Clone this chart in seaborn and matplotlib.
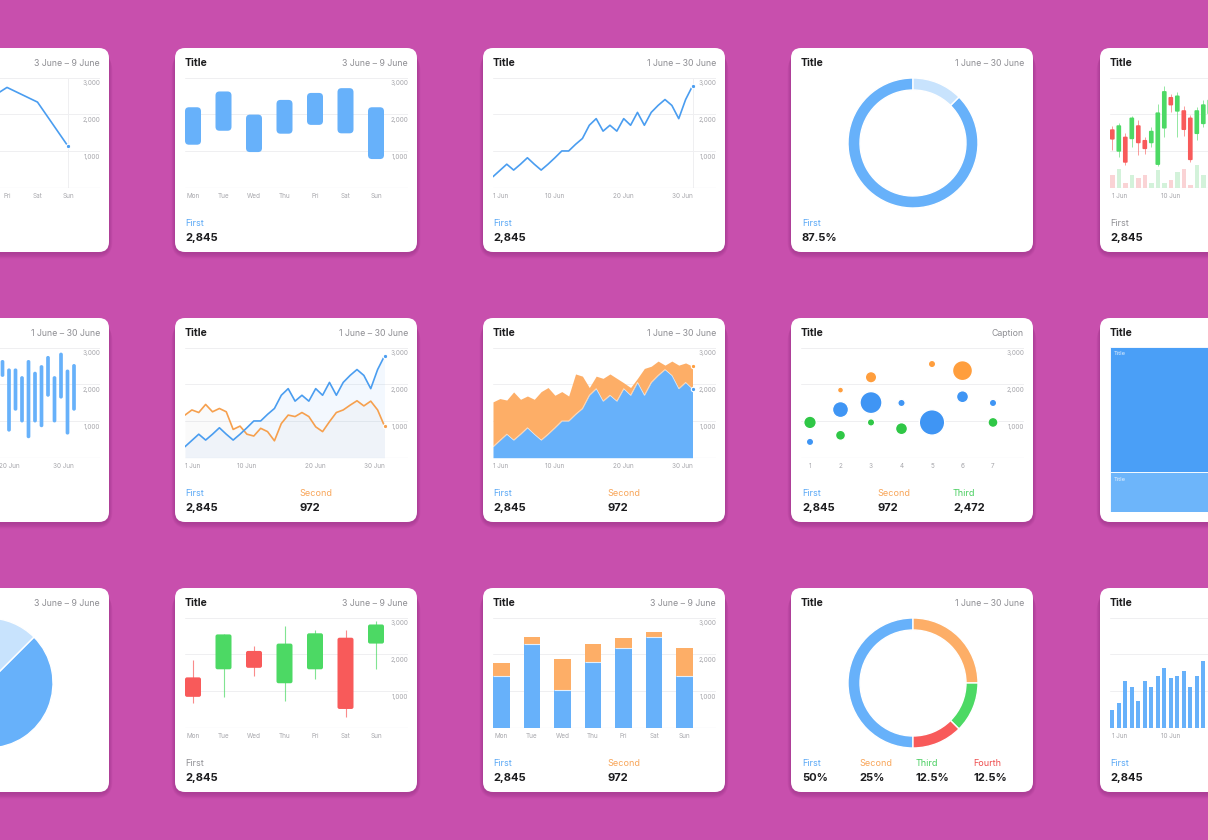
import numpy as np
import pandas as pd
import matplotlib.pyplot as plt
import seaborn as sns
from matplotlib.patches import FancyBboxPatch

W, H = 1208, 840

# ---- data ----
week_days = ["Mon", "Tue", "Wed", "Thu", "Fri", "Sat", "Sun"]
y_ticks = [1000, 2000, 3000]
y_tick_labels = ["1,000", "2,000", "3,000"]
days = list(range(1, 31))
month_ticks = [1, 10, 20, 30]
month_tick_labels = ["1 Jun", "10 Jun", "20 Jun", "30 Jun"]

# weekly line (left card, only Thu-Sun visible)
week_line = [1800, 2400, 1900, 2200, 2730, 2330, 1130]

# weekly floating bars
range_low = [1170, 1550, 970, 1470, 1710, 1480, 780]
range_high = [2190, 2620, 1990, 2390, 2580, 2710, 2190]

# first series, 30 days
first = [300, 470, 640, 480, 640, 815, 640, 480, 640, 815, 1000, 1000, 1180, 1340, 1700,
         1880, 1540, 1700, 1540, 1880, 1700, 2050, 1700, 2050, 2240, 2400, 2240, 1880, 2400, 2770]
# second series, 30 days
second = [1160, 1300, 1230, 1450, 1250, 1340, 1250, 770, 860, 640, 590, 800, 710, 460, 930,
          1160, 1120, 1230, 1120, 840, 710, 980, 1230, 1300, 1430, 1550, 1410, 1540, 1300, 860]

# stacked area
area_first = [300, 470, 640, 480, 640, 815, 640, 480, 640, 815, 1000, 1000, 1180, 1340, 1700,
              1880, 1540, 1700, 1540, 1880, 1700, 2050, 1700, 2050, 2240, 2400, 2240, 1880, 2050, 1870]
area_total = [1520, 1610, 1570, 1790, 1590, 1680, 1590, 1800, 1910, 1700, 1800, 1680, 2280, 2220, 1910,
              2220, 2160, 2280, 2160, 2040, 1910, 2160, 2430, 2490, 2630, 2520, 2630, 2520, 2580, 2490]

# monthly floating bars (left card, days 19-30 visible)
mrange_days = [19, 20, 21, 22, 23, 24, 25, 26, 27, 28, 29, 30]
mrange_low = [2200, 710, 1280, 960, 530, 960, 830, 1660, 960, 1610, 630, 1280]
mrange_high = [2660, 2430, 2430, 2220, 2660, 2340, 2520, 2770, 2220, 2860, 2400, 2550]

# bubbles
bub_blue_x = [1, 2, 3, 4, 5, 6, 7]
bub_blue_y = [430, 1310, 1500, 1490, 960, 1660, 1490]
bub_blue_r = [3.7, 8, 11, 3.7, 12.7, 6, 3.7]
bub_orange_x = [2, 3, 5, 6]
bub_orange_y = [1840, 2190, 2550, 2370]
bub_orange_r = [3, 5.7, 3.7, 10]
bub_green_x = [1, 2, 3, 4, 7]
bub_green_y = [960, 610, 960, 790, 960]
bub_green_r = [6.3, 5, 3.7, 6, 5]

# weekly candles
wc_open = [1370, 1590, 2090, 1210, 1590, 2450, 2290]
wc_close = [840, 2540, 1630, 2290, 2570, 510, 2810]
wc_high = [1840, 2540, 2230, 2760, 2660, 2660, 2910]
wc_low = [660, 840, 1410, 730, 1330, 280, 1590]

# stacked weekly bars
stack_first = [1400, 2280, 1020, 1790, 2180, 2460, 1400]
stack_second = [370, 180, 860, 490, 270, 140, 770]

# monthly candles (right card, days 1-16 visible)
mc_days = list(range(1, 17))
mc_open = [1590, 980, 1390, 1320, 1700, 1300, 1210, 620, 1610, 2470, 2070, 2110, 1910, 1460, 1730, 2000]
mc_close = [1310, 1700, 680, 1910, 1210, 1050, 1550, 2050, 2630, 2240, 2510, 1570, 750, 2110, 2270, 2400]
mc_high = [1680, 1750, 1480, 1950, 1840, 1390, 1660, 2290, 2770, 2550, 2610, 2220, 1980, 2200, 2380, 2500]
mc_low = [1020, 830, 620, 1120, 890, 930, 1100, 590, 1390, 2070, 1390, 1400, 710, 1300, 1640, 1900]
mc_volume = [340, 510, 140, 340, 270, 340, 140, 480, 140, 210, 430, 510, 70, 620, 340, 300]

# monthly bars (right card, days 1-16 visible)
mbar_days = list(range(1, 17))
mbar_values = [480, 680, 1270, 1110, 730, 1270, 1110, 1400, 1630, 1340, 1400, 1540, 1110, 1400, 1810, 1930]

donut_one = [87.5, 12.5]
donut_four = [50, 25, 12.5, 12.5]
pie_values = [75, 25]
treemap_values = [76, 24]

# ---- colours ----
BG = "#C84FAD"
INK = "#1D1D1F"
GRAY = "#8E8E93"
TICK = "#A6A6AB"
GRID = "#EFEFF1"
BASE = "#DADADD"
BLUE_LINE = "#4A9DF0"
BLUE = "#67B1FA"
BLUE_LIGHT = "#C8E3FD"
BLUE_BUB = "#3F95F4"
ORANGE = "#FDAE67"
ORANGE_LINE = "#F6A04E"
ORANGE_BUB = "#FF9E3D"
GREEN = "#4CD964"
GREEN_BUB = "#2FC746"
RED = "#F85A5A"
GREEN_LIGHT = "#D3F2DA"
RED_LIGHT = "#FAD3D5"
C_FIRST = "#56A6F5"
C_SECOND = "#F8A65A"
C_THIRD = "#47CE5E"
C_FOURTH = "#EE4D4D"

COL_X = [-133, 175, 483, 791, 1100]
ROW_Y = [48, 318, 588]
CARD_W, CARD_H = 242, 204

sns.set_style("white")
plt.rcParams["font.family"] = ["Inter", "DejaVu Sans"]
plt.rcParams["patch.force_edgecolor"] = False

fig = plt.figure(figsize=(W / 100, H / 100), dpi=100)
fig.patch.set_facecolor(BG)
bg = fig.add_axes([0, 0, 1, 1])
bg.set_xlim(0, W)
bg.set_ylim(H, 0)
bg.set_axis_off()

PX_Y = 110.2 / 3000


def px_axes(x, y, w, h):
    return fig.add_axes([x / W, 1 - (y + h) / H, w / W, h / H])


def card(col, row, date=None):
    cx, cy = COL_X[col], ROW_Y[row]
    for k in range(1, 8):
        bg.add_patch(FancyBboxPatch((cx - k * 0.5, cy + 1 + k * 0.8), CARD_W + k, CARD_H,
                                    boxstyle=f"round,pad=0,rounding_size={10 + k}",
                                    fc="#5c0f52", ec="none", alpha=0.035))
    bg.add_patch(FancyBboxPatch((cx, cy), CARD_W, CARD_H, boxstyle="round,pad=0,rounding_size=10",
                                fc="white", ec="none"))
    bg.text(cx + 10, cy + 14.5, "Title", fontsize=7.5, weight="bold", color=INK, va="center")
    if date:
        bg.text(cx + 233, cy + 15, date, fontsize=6.3, color=GRAY, va="center", ha="right")
    return cx, cy


def legend(cx, cy, items):
    for dx, name, color, value in items:
        bg.text(cx + dx, cy + 175, name, fontsize=6.5, color=color, va="center")
        bg.text(cx + dx, cy + 190, value, fontsize=8, weight="bold", color=INK, va="center")


def step_lim(first_px, step, first_val):
    lo = first_val - first_px / step
    return (lo, lo + 223 / step)


def chart_axes(cx, cy):
    ax = px_axes(cx + 10, cy + 29.5, 223, 110.2)
    return ax


def finish(ax, xlim):
    ax.set_xlim(*xlim)
    ax.set_ylim(0, 3000)
    ax.set_axis_off()
    for v, lab in zip(y_ticks, y_tick_labels):
        ax.axhline(v, color=GRID, lw=0.7, zorder=0)
        ax.annotate(lab, (1, v), xycoords=("axes fraction", "data"), xytext=(0, -4.3),
                    textcoords="offset points", ha="right", va="center", fontsize=4.6,
                    color=TICK, annotation_clip=False)
    ax.axhline(0, color=BASE, lw=0.8, zorder=0)


def x_labels(ax, xs, labels, ends=False):
    for i, (x, lab) in enumerate(zip(xs, labels)):
        ha = "center"
        if ends and i == 0:
            ha = "left"
        elif ends and i == len(xs) - 1:
            ha = "right"
        ax.annotate(lab, (x, 0), xycoords="data", xytext=(0, -6), textcoords="offset points",
                    ha=ha, va="center", fontsize=4.6, color=TICK, annotation_clip=False)


def rbar(ax, x, lo, hi, width, color, r_px, px_x, zorder=2):
    rx, ry = r_px / px_x, r_px / PX_Y
    ax.add_patch(FancyBboxPatch((x - width / 2, lo), width, hi - lo,
                                boxstyle=f"round,pad=0,rounding_size={rx}",
                                mutation_aspect=ry / rx, fc=color, ec="none", zorder=zorder))


def end_dot(ax, x, y, color):
    ax.scatter([x], [y], s=10, color=color, edgecolor="white", linewidth=0.8, zorder=6, clip_on=False)


week_idx = list(range(7))
WEEK_LIM = step_lim(8, 30.5, 0)
MONTH_LIM = step_lim(0, 199.5 / 29, 1)

# ---------- row 0 ----------
# r0c0 weekly line
cx, cy = card(0, 0, "3 June \u2013 9 June")
ax = chart_axes(cx, cy)
sns.lineplot(x=week_idx, y=week_line, ax=ax, color=BLUE_LINE, lw=1.2)
ax.axvline(6, color=GRID, lw=0.7, zorder=0)
end_dot(ax, 6, week_line[-1], BLUE_LINE)
finish(ax, WEEK_LIM)
x_labels(ax, week_idx, week_days)

# r0c1 floating bars
cx, cy = card(1, 0, "3 June \u2013 9 June")
ax = chart_axes(cx, cy)
for i, (lo, hi) in enumerate(zip(range_low, range_high)):
    rbar(ax, i, lo, hi, 16 / 30.5, BLUE, 4, 30.5)
finish(ax, WEEK_LIM)
x_labels(ax, week_idx, week_days)
legend(cx, cy, [(10, "First", C_FIRST, "2,845")])

# r0c2 monthly line
cx, cy = card(2, 0, "1 June \u2013 30 June")
ax = chart_axes(cx, cy)
sns.lineplot(x=days, y=first, ax=ax, color=BLUE_LINE, lw=1.2)
ax.axvline(30, color=GRID, lw=0.7, zorder=0)
end_dot(ax, 30, first[-1], BLUE_LINE)
finish(ax, MONTH_LIM)
x_labels(ax, month_ticks, month_tick_labels, ends=True)
legend(cx, cy, [(10, "First", C_FIRST, "2,845")])

# r0c3 donut
cx, cy = card(3, 0, "1 June \u2013 30 June")
ax = px_axes(cx + 122 - 68, cy + 95 - 68, 136, 136)
ax.pie(donut_one, colors=[BLUE, BLUE_LIGHT], startangle=45, counterclock=False,
       wedgeprops=dict(width=12 / 65, edgecolor="white", linewidth=1))
ax.set_xlim(-68 / 65, 68 / 65)
ax.set_ylim(-68 / 65, 68 / 65)
ax.set_axis_off()
legend(cx, cy, [(11, "First", C_FIRST, "87.5%")])

# r0c4 monthly candles + volume
cx, cy = card(4, 0)
ax = chart_axes(cx, cy)
px_m = 6.5
for d, o, c, hi, lo, v in zip(mc_days, mc_open, mc_close, mc_high, mc_low, mc_volume):
    up = c >= o
    col = GREEN if up else RED
    ax.bar(d, v, width=0.7, color=GREEN_LIGHT if up else RED_LIGHT, linewidth=0, zorder=1)
    ax.vlines(d, lo, hi, color=col, lw=0.7, alpha=0.6, zorder=2)
    rbar(ax, d, min(o, c), max(o, c), 0.72, col, 1, px_m, zorder=3)
finish(ax, step_lim(2.3, px_m, 1))
x_labels(ax, month_ticks, month_tick_labels, ends=True)
legend(cx, cy, [(10, "First", GRAY, "2,845")])

# ---------- row 1 ----------
# r1c0 monthly floating bars
cx, cy = card(0, 1, "1 June \u2013 30 June")
ax = chart_axes(cx, cy)
for d, lo, hi in zip(mrange_days, mrange_low, mrange_high):
    rbar(ax, d, lo, hi, 3.7 / 6.5, BLUE, 1.8, 6.5)
finish(ax, step_lim(8.5, 6.5, 1))
x_labels(ax, month_ticks, month_tick_labels, ends=True)

# r1c1 two lines
cx, cy = card(1, 1, "1 June \u2013 30 June")
ax = chart_axes(cx, cy)
ax.fill_between(days, first, color=BLUE, alpha=0.08, lw=0, zorder=1)
ax.fill_between(days, second, color="#B0B0B8", alpha=0.06, lw=0, zorder=1)
sns.lineplot(x=days, y=second, ax=ax, color=ORANGE_LINE, lw=1.2, zorder=3)
sns.lineplot(x=days, y=first, ax=ax, color=BLUE_LINE, lw=1.2, zorder=4)
end_dot(ax, 30, first[-1], BLUE_LINE)
end_dot(ax, 30, second[-1], ORANGE_LINE)
finish(ax, MONTH_LIM)
x_labels(ax, month_ticks, month_tick_labels, ends=True)
legend(cx, cy, [(10, "First", C_FIRST, "2,845"), (124, "Second", C_SECOND, "972")])

# r1c2 stacked area
cx, cy = card(2, 1, "1 June \u2013 30 June")
ax = chart_axes(cx, cy)
ax.fill_between(days, area_first, area_total, color=ORANGE, lw=0, zorder=2)
ax.fill_between(days, 0, area_first, color=BLUE, lw=0, zorder=2)
sns.lineplot(x=days, y=area_first, ax=ax, color="white", lw=0.6, alpha=0.6, zorder=3)
end_dot(ax, 30, area_total[-1], ORANGE_BUB)
end_dot(ax, 30, area_first[-1], BLUE_LINE)
finish(ax, MONTH_LIM)
x_labels(ax, month_ticks, month_tick_labels, ends=True)
legend(cx, cy, [(10, "First", C_FIRST, "2,845"), (124, "Second", C_SECOND, "972")])

# r1c3 bubbles
cx, cy = card(3, 1, "Caption")
ax = chart_axes(cx, cy)
for xs, ys, rs, col in [(bub_blue_x, bub_blue_y, bub_blue_r, BLUE_BUB),
                        (bub_orange_x, bub_orange_y, bub_orange_r, ORANGE_BUB),
                        (bub_green_x, bub_green_y, bub_green_r, GREEN_BUB)]:
    sizes = [(2 * r * 0.72) ** 2 for r in rs]
    sns.scatterplot(x=xs, y=ys, s=sizes, color=col, edgecolor="white", linewidth=1,
                    ax=ax, legend=False, zorder=3)
finish(ax, step_lim(9, 30.5, 1))
x_labels(ax, list(range(1, 8)), [str(i) for i in range(1, 8)])
legend(cx, cy, [(11, "First", C_FIRST, "2,845"), (86, "Second", C_SECOND, "972"),
                (162, "Third", C_THIRD, "2,472")])

# r1c4 treemap
cx, cy = card(4, 1)
ax = px_axes(cx + 10, cy + 29, 240, 164.7)
bottoms = [0, treemap_values[0]]
ax.bar([0, 0], treemap_values, bottom=bottoms, width=1, color=["#4A9FF7", "#6DB5FA"],
       edgecolor="white", linewidth=0.6)
ax.set_xlim(-0.5, 0.5)
ax.set_ylim(sum(treemap_values), 0)
ax.set_axis_off()
for b in bottoms:
    ax.annotate("Title", (-0.5, b), xytext=(2.5, -5), textcoords="offset points",
                fontsize=4.2, color="white", alpha=0.85, va="center", annotation_clip=False)

# ---------- row 2 ----------
# r2c0 pie
cx, cy = card(0, 2, "3 June \u2013 9 June")
ax = px_axes(cx + 121 - 68, cy + 95 - 68, 136, 136)
ax.pie(pie_values, colors=[BLUE, BLUE_LIGHT], startangle=45, counterclock=False,
       wedgeprops=dict(edgecolor="white", linewidth=1))
ax.set_xlim(-68 / 65, 68 / 65)
ax.set_ylim(-68 / 65, 68 / 65)
ax.set_axis_off()

# r2c1 weekly candles
cx, cy = card(1, 2, "3 June \u2013 9 June")
ax = chart_axes(cx, cy)
for i, (o, c, hi, lo) in enumerate(zip(wc_open, wc_close, wc_high, wc_low)):
    col = GREEN if c >= o else RED
    ax.vlines(i, lo, hi, color=col, lw=0.8, alpha=0.7, zorder=2)
    rbar(ax, i, min(o, c), max(o, c), 16 / 30.5, col, 2, 30.5, zorder=3)
finish(ax, WEEK_LIM)
x_labels(ax, week_idx, week_days)
legend(cx, cy, [(10, "First", GRAY, "2,845")])

# r2c2 stacked bars
cx, cy = card(2, 2, "3 June \u2013 9 June")
ax = chart_axes(cx, cy)
sns.barplot(x=week_days, y=stack_first, color=BLUE, saturation=1, width=0.55,
            errorbar=None, linewidth=0, ax=ax)
ax.bar(week_idx, stack_second, bottom=stack_first, width=0.55, color=ORANGE, linewidth=0)
ax.hlines(stack_first, [i - 0.275 for i in week_idx], [i + 0.275 for i in week_idx],
          color="white", lw=0.8, alpha=0.8, zorder=5)
finish(ax, step_lim(8.5, 30.5, 0))
x_labels(ax, week_idx, week_days)
legend(cx, cy, [(10, "First", C_FIRST, "2,845"), (124, "Second", C_SECOND, "972")])

# r2c3 donut
cx, cy = card(3, 2, "1 June \u2013 30 June")
ax = px_axes(cx + 122 - 68, cy + 95 - 68, 136, 136)
ax.pie(donut_four, colors=[BLUE, ORANGE, GREEN, RED], startangle=270, counterclock=False,
       wedgeprops=dict(width=12 / 65, edgecolor="white", linewidth=1))
ax.set_xlim(-68 / 65, 68 / 65)
ax.set_ylim(-68 / 65, 68 / 65)
ax.set_axis_off()
legend(cx, cy, [(11, "First", C_FIRST, "50%"), (68, "Second", C_SECOND, "25%"),
                (125, "Third", C_THIRD, "12.5%"), (182, "Fourth", C_FOURTH, "12.5%")])

# r2c4 monthly bars (categorical positions: day n sits at n - 1)
cx, cy = card(4, 2)
ax = chart_axes(cx, cy)
sns.barplot(x=mbar_days, y=mbar_values, color=BLUE, saturation=1,
            width=0.62, errorbar=None, linewidth=0, ax=ax)
finish(ax, step_lim(2.3, 6.5, 0))
x_labels(ax, [t - 1 for t in month_ticks], month_tick_labels, ends=True)
legend(cx, cy, [(10, "First", C_FIRST, "2,845")])

fig.savefig("out.png", dpi=100, facecolor=fig.get_facecolor())
